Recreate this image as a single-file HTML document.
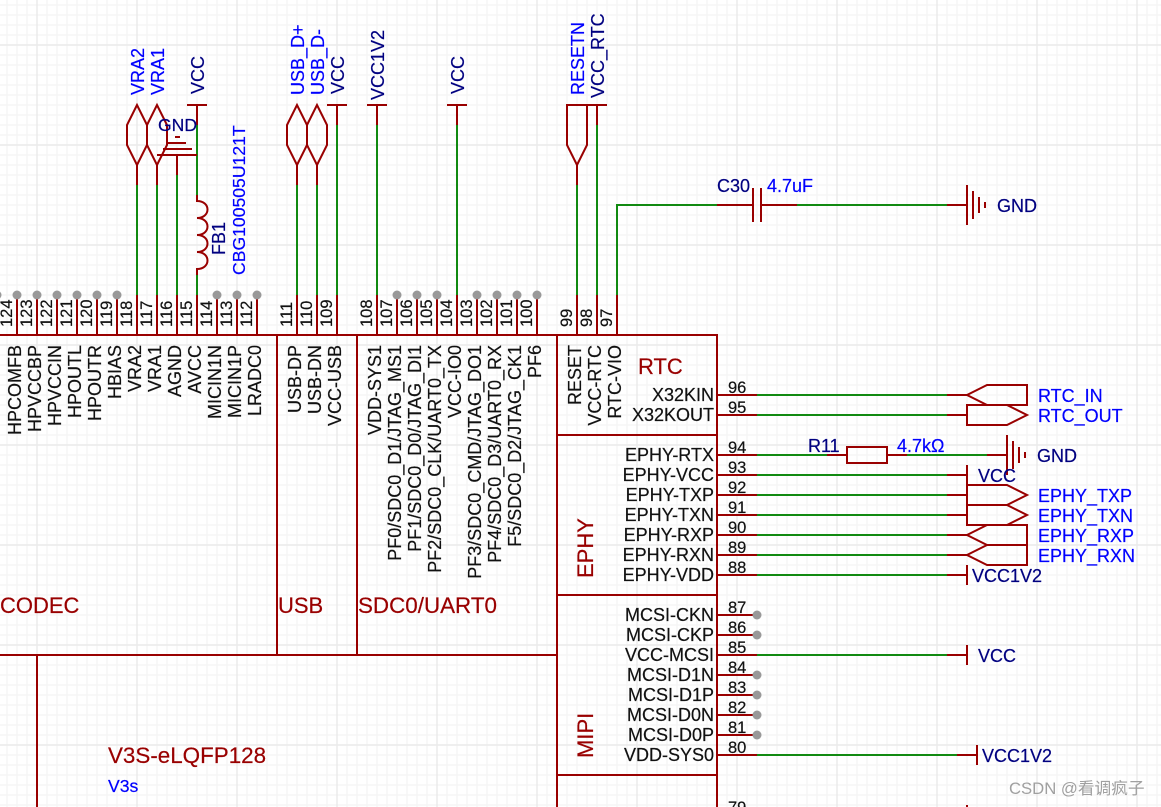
<!DOCTYPE html>
<html><head><meta charset="utf-8"><style>
html,body{margin:0;padding:0;background:#fff}
svg{display:block}
text{font-family:"Liberation Sans","Noto Sans CJK SC",sans-serif;font-size:18px;stroke-width:.2}
.n{font-size:16.5px;fill:#111;stroke:#111}
.pe{fill:#111;stroke:#111;text-anchor:end}
.b{fill:#0000ff;stroke:#0000ff}
.d{fill:#000080;stroke:#000080}
.t{fill:#990000;stroke:#990000;font-size:22px}
.r{stroke:#990000;stroke-width:2;fill:none}
.g{stroke:#118a11;stroke-width:2;fill:none}
.dot{fill:#999}
</style></head><body>
<svg width="1161" height="807" viewBox="0 0 1161 807" xmlns="http://www.w3.org/2000/svg">
<defs>
<pattern id="mi" width="10" height="10" x="2" y="0" patternUnits="userSpaceOnUse"><path d="M5 0V10M0 5H10" stroke="#f5f5f5" stroke-width="1.4" fill="none"/></pattern>
<pattern id="ma" width="100" height="100" x="-13" y="-5" patternUnits="userSpaceOnUse"><path d="M50 0V100M0 50H100" stroke="#ebebeb" stroke-width="1.4" fill="none"/></pattern>
</defs>
<rect width="1161" height="807" fill="#fff"/>
<rect width="1161" height="807" fill="url(#mi)"/>
<rect width="1161" height="807" fill="url(#ma)"/>

<!-- green wires -->
<path class="g" d="M137 185V295M157 185V295M177 175V295M197 125V195M197 275V295M297 185V295M317 185V295M337 125V295M377 125V295M457 125V295M577 185V295M597 125V295M617 295V205H717M797 205H947"/>
<path class="g" d="M757 395H947M757 415H947M757 455H827M907 455H987M757 475H947M757 495H947M757 515H947M757 535H947M757 555H947M757 575H947M757 655H947M757 755H957"/>

<!-- chip body -->
<path class="r" d="M0 335H717V807M277 335V655M357 335V655M557 335V807M0 655H557M37 655V807M557 435H717M557 595H717M557 775H717"/>

<!-- top pin stubs -->
<path class="r" d="M17 295V335M37 295V335M57 295V335M77 295V335M97 295V335M117 295V335M137 295V335M157 295V335M177 295V335M197 295V335M217 295V335M237 295V335M257 295V335M297 295V335M317 295V335M337 295V335M377 295V335M397 295V335M417 295V335M437 295V335M457 295V335M477 295V335M497 295V335M517 295V335M537 295V335M577 295V335M597 295V335M617 295V335"/>
<!-- right pin stubs -->
<path class="r" d="M717 395H757M717 415H757M717 455H757M717 475H757M717 495H757M717 515H757M717 535H757M717 555H757M717 575H757M717 615H757M717 635H757M717 655H757M717 675H757M717 695H757M717 715H757M717 735H757M717 755H757M717 815H757"/>
<!-- wire-end stubs -->
<path class="r" d="M947 395H967M947 415H967M947 475H967M947 495H967M947 515H967M947 535H967M947 555H967M947 575H967M947 655H967M957 755H977"/>

<!-- dots -->
<g class="dot">
<circle cx="-3" cy="295" r="4.5"/><circle cx="17" cy="295" r="4.5"/><circle cx="37" cy="295" r="4.5"/><circle cx="57" cy="295" r="4.5"/><circle cx="77" cy="295" r="4.5"/><circle cx="97" cy="295" r="4.5"/><circle cx="117" cy="295" r="4.5"/><circle cx="217" cy="295" r="4.5"/><circle cx="237" cy="295" r="4.5"/><circle cx="257" cy="295" r="4.5"/>
<circle cx="397" cy="295" r="4.5"/><circle cx="417" cy="295" r="4.5"/><circle cx="437" cy="295" r="4.5"/><circle cx="477" cy="295" r="4.5"/><circle cx="497" cy="295" r="4.5"/><circle cx="517" cy="295" r="4.5"/><circle cx="537" cy="295" r="4.5"/>
<circle cx="757" cy="615" r="4.5"/><circle cx="757" cy="635" r="4.5"/><circle cx="757" cy="675" r="4.5"/><circle cx="757" cy="695" r="4.5"/><circle cx="757" cy="715" r="4.5"/><circle cx="757" cy="735" r="4.5"/>
</g>

<!-- top symbols -->
<path class="r" d="M137 105L127 125V145L137 165L147 145V125ZM137 165V185M157 105L147 125V145L157 165L167 145V125ZM157 165V185"/>
<path class="r" d="M297 105L287 125V145L297 165L307 145V125ZM297 165V185M317 105L307 125V145L317 165L327 145V125ZM317 165V185"/>
<path class="r" d="M177 155V175M157 155H197M163 149H192M168 143H186M175 137H180"/>
<path class="r" d="M187 105H207M197 105V125M327 105H347M337 105V125M367 105H387M377 105V125M447 105H467M457 105V125M587 105H607M597 105V125"/>
<path class="r" d="M567 105H587V145L577 165L567 145ZM577 165V185"/>
<path class="r" d="M197 195V201C211 201 211 218 197 218C211 218 211 235 197 235C211 235 211 252 197 252C211 252 211 269 197 269V275"/>

<!-- cap + GND -->
<path class="r" d="M717 205H753M753 188V222M761 188V222M761 205H797M947 205H967M967 185V225M973 191V219M979 197V213M985 202V208"/>
<!-- R11 + GND -->
<path class="r" d="M827 455H847M847 447H887V463H847ZM887 455H907M987 455H1007M1007 435V475M1013 441V469M1019 447V463M1025 452V458"/>
<!-- ports -->
<path class="r" d="M967 395L987 385H1027V405H987ZM967 405H1007L1027 415L1007 425H967ZM967 465V485M967 485H1007L1027 495L1007 505H967ZM967 505H1007L1027 515L1007 525H967ZM967 485V525M967 535L987 525H1027V545H987ZM967 555L987 545H1027V565H987ZM967 565V585M967 645V665M977 745V765M967 805V825"/>

<!-- top labels -->
<g>
<text class="b" transform="translate(144,95) rotate(-90)">VRA2</text>
<text class="b" transform="translate(164,95) rotate(-90)">VRA1</text>
<text class="d" transform="translate(204,94) rotate(-90)">VCC</text>
<text class="d" x="158" y="131" style="font-size:17.6px">GND</text>
<text class="d" transform="translate(225,255) rotate(-90)">FB1</text>
<text class="b" transform="translate(245,275) rotate(-90)" style="font-size:17.6px">CBG100505U121T</text>
<text class="b" transform="translate(304,95) rotate(-90)">USB_D+</text>
<text class="b" transform="translate(324,95) rotate(-90)">USB_D-</text>
<text class="d" transform="translate(344,94) rotate(-90)">VCC</text>
<text class="d" transform="translate(384,100) rotate(-90)">VCC1V2</text>
<text class="d" transform="translate(464,94) rotate(-90)">VCC</text>
<text class="b" transform="translate(584,95) rotate(-90)">RESETN</text>
<text class="d" transform="translate(604,98) rotate(-90)">VCC_RTC</text>
</g>

<!-- top pin numbers -->
<g>
<text class="n" transform="translate(12,327) rotate(-90)">124</text>
<text class="n" transform="translate(32,327) rotate(-90)">123</text>
<text class="n" transform="translate(52,327) rotate(-90)">122</text>
<text class="n" transform="translate(72,327) rotate(-90)">121</text>
<text class="n" transform="translate(92,327) rotate(-90)">120</text>
<text class="n" transform="translate(112,327) rotate(-90)">119</text>
<text class="n" transform="translate(132,327) rotate(-90)">118</text>
<text class="n" transform="translate(152,327) rotate(-90)">117</text>
<text class="n" transform="translate(172,327) rotate(-90)">116</text>
<text class="n" transform="translate(192,327) rotate(-90)">115</text>
<text class="n" transform="translate(212,327) rotate(-90)">114</text>
<text class="n" transform="translate(232,327) rotate(-90)">113</text>
<text class="n" transform="translate(252,327) rotate(-90)">112</text>
<text class="n" transform="translate(292,327) rotate(-90)">111</text>
<text class="n" transform="translate(312,327) rotate(-90)">110</text>
<text class="n" transform="translate(332,327) rotate(-90)">109</text>
<text class="n" transform="translate(372,327) rotate(-90)">108</text>
<text class="n" transform="translate(392,327) rotate(-90)">107</text>
<text class="n" transform="translate(412,327) rotate(-90)">106</text>
<text class="n" transform="translate(432,327) rotate(-90)">105</text>
<text class="n" transform="translate(452,327) rotate(-90)">104</text>
<text class="n" transform="translate(472,327) rotate(-90)">103</text>
<text class="n" transform="translate(492,327) rotate(-90)">102</text>
<text class="n" transform="translate(512,327) rotate(-90)">101</text>
<text class="n" transform="translate(532,327) rotate(-90)">100</text>
<text class="n" transform="translate(572,327) rotate(-90)">99</text>
<text class="n" transform="translate(592,327) rotate(-90)">98</text>
<text class="n" transform="translate(612,327) rotate(-90)">97</text>
</g>

<!-- top pin names -->
<g>
<text class="pe" transform="translate(21,345) rotate(-90)">HPCOMFB</text>
<text class="pe" transform="translate(41,345) rotate(-90)">HPVCCBP</text>
<text class="pe" transform="translate(61,345) rotate(-90)">HPVCCIN</text>
<text class="pe" transform="translate(81,345) rotate(-90)">HPOUTL</text>
<text class="pe" transform="translate(101,345) rotate(-90)">HPOUTR</text>
<text class="pe" transform="translate(121,345) rotate(-90)">HBIAS</text>
<text class="pe" transform="translate(141,345) rotate(-90)">VRA2</text>
<text class="pe" transform="translate(161,345) rotate(-90)">VRA1</text>
<text class="pe" transform="translate(181,345) rotate(-90)">AGND</text>
<text class="pe" transform="translate(201,345) rotate(-90)">AVCC</text>
<text class="pe" transform="translate(221,345) rotate(-90)">MICIN1N</text>
<text class="pe" transform="translate(241,345) rotate(-90)">MICIN1P</text>
<text class="pe" transform="translate(261,345) rotate(-90)">LRADC0</text>
<text class="pe" transform="translate(301,345) rotate(-90)">USB-DP</text>
<text class="pe" transform="translate(321,345) rotate(-90)">USB-DN</text>
<text class="pe" transform="translate(341,345) rotate(-90)">VCC-USB</text>
<text class="pe" transform="translate(381,345) rotate(-90)">VDD-SYS1</text>
<text class="pe" transform="translate(401,345) rotate(-90)">PF0/SDC0_D1/JTAG_MS1</text>
<text class="pe" transform="translate(421,345) rotate(-90)">PF1/SDC0_D0/JTAG_DI1</text>
<text class="pe" transform="translate(441,345) rotate(-90)">PF2/SDC0_CLK/UART0_TX</text>
<text class="pe" transform="translate(461,345) rotate(-90)">VCC-IO0</text>
<text class="pe" transform="translate(481,345) rotate(-90)">PF3/SDC0_CMD/JTAG_DO1</text>
<text class="pe" transform="translate(501,345) rotate(-90)">PF4/SDC0_D3/UART0_RX</text>
<text class="pe" transform="translate(521,345) rotate(-90)">F5/SDC0_D2/JTAG_CK1</text>
<text class="pe" transform="translate(541,345) rotate(-90)">PF6</text>
<text class="pe" transform="translate(581,345) rotate(-90)">RESET</text>
<text class="pe" transform="translate(601,345) rotate(-90)">VCC-RTC</text>
<text class="pe" transform="translate(621,345) rotate(-90)">RTC-VIO</text>
</g>

<!-- right pin names -->
<g>
<text class="pe" x="714" y="401">X32KIN</text>
<text class="pe" x="714" y="421">X32KOUT</text>
<text class="pe" x="714" y="461">EPHY-RTX</text>
<text class="pe" x="714" y="481">EPHY-VCC</text>
<text class="pe" x="714" y="501">EPHY-TXP</text>
<text class="pe" x="714" y="521">EPHY-TXN</text>
<text class="pe" x="714" y="541">EPHY-RXP</text>
<text class="pe" x="714" y="561">EPHY-RXN</text>
<text class="pe" x="714" y="581">EPHY-VDD</text>
<text class="pe" x="714" y="621">MCSI-CKN</text>
<text class="pe" x="714" y="641">MCSI-CKP</text>
<text class="pe" x="714" y="661">VCC-MCSI</text>
<text class="pe" x="714" y="681">MCSI-D1N</text>
<text class="pe" x="714" y="701">MCSI-D1P</text>
<text class="pe" x="714" y="721">MCSI-D0N</text>
<text class="pe" x="714" y="741">MCSI-D0P</text>
<text class="pe" x="714" y="761">VDD-SYS0</text>
</g>

<!-- right pin numbers -->
<g>
<text class="n" x="728" y="393">96</text>
<text class="n" x="728" y="413">95</text>
<text class="n" x="728" y="453">94</text>
<text class="n" x="728" y="473">93</text>
<text class="n" x="728" y="493">92</text>
<text class="n" x="728" y="513">91</text>
<text class="n" x="728" y="533">90</text>
<text class="n" x="728" y="553">89</text>
<text class="n" x="728" y="573">88</text>
<text class="n" x="728" y="613">87</text>
<text class="n" x="728" y="633">86</text>
<text class="n" x="728" y="653">85</text>
<text class="n" x="728" y="673">84</text>
<text class="n" x="728" y="693">83</text>
<text class="n" x="728" y="713">82</text>
<text class="n" x="728" y="733">81</text>
<text class="n" x="728" y="753">80</text>
<text class="n" x="728" y="813">79</text>
</g>

<!-- section titles -->
<text class="t" x="638" y="374">RTC</text>
<text class="t" x="0" y="613">CODEC</text>
<text class="t" x="278" y="613">USB</text>
<text class="t" x="358" y="613" style="font-size:22.4px">SDC0/UART0</text>
<text class="t" transform="translate(593,578) rotate(-90)">EPHY</text>
<text class="t" transform="translate(593,758) rotate(-90)">MIPI</text>
<text class="t" x="108" y="763" style="font-size:22.4px">V3S-eLQFP128</text>
<text class="b" x="108" y="792" style="font-size:17.6px">V3s</text>

<!-- right side labels -->
<text class="d" x="717" y="192">C30</text>
<text class="b" x="767" y="192">4.7uF</text>
<text class="d" x="997" y="212">GND</text>
<text class="b" x="1038" y="402">RTC_IN</text>
<text class="b" x="1038" y="422">RTC_OUT</text>
<text class="d" x="808" y="452">R11</text>
<text class="b" x="897" y="452">4.7kΩ</text>
<text class="d" x="1037" y="462">GND</text>
<text class="d" x="978" y="482">VCC</text>
<text class="b" x="1038" y="502">EPHY_TXP</text>
<text class="b" x="1038" y="522">EPHY_TXN</text>
<text class="b" x="1038" y="542">EPHY_RXP</text>
<text class="b" x="1038" y="562">EPHY_RXN</text>
<text class="d" x="972" y="582">VCC1V2</text>
<text class="d" x="978" y="662">VCC</text>
<text class="d" x="982" y="762">VCC1V2</text>

<text x="1009" y="794" style="font-size:16.7px;fill:#a0a0a0;stroke:none">CSDN @看调疯子</text>
</svg>
</body></html>
